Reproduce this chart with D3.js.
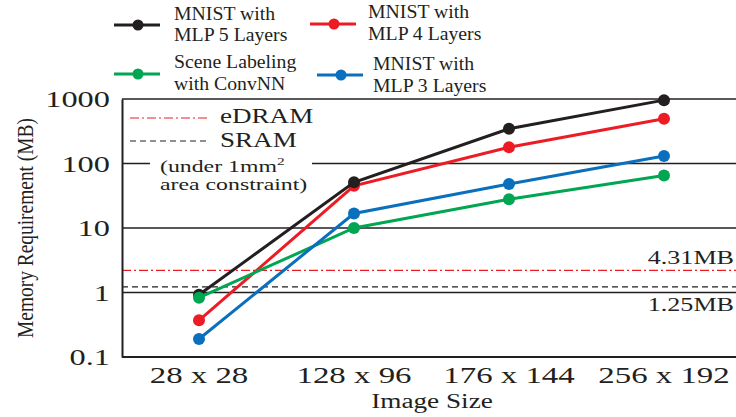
<!DOCTYPE html>
<html><head><meta charset="utf-8">
<script src="https://cdnjs.cloudflare.com/ajax/libs/d3/7.8.5/d3.min.js"></script>
<style>body{margin:0;background:#fff}svg{display:block}text{font-family:"Liberation Serif","Times New Roman",serif;fill:#231f20}</style>
</head><body><svg id="c" width="736" height="417"></svg>
<script>
const categories = ["28 x 28", "128 x 96", "176 x 144", "256 x 192"];
const mlp5 = [0.92, 51, 345, 960];
const mlp4 = [0.37, 45, 179, 494];
const convnn = [0.83, 10, 28, 65];
const mlp3 = [0.19, 16.8, 48, 131];
const yTicks = [0.1, 1, 10, 100, 1000];
const yTickLabels = ["0.1", "1", "10", "100", "1000"];
const edramLevel = 2.2, sramLevel = 1.22;
const edramLabel = "4.31MB", sramLabel = "1.25MB";

const series = [
  {name: ["MNIST with", "MLP 4 Layers"], values: mlp4, color: "#ed1c24"},
  {name: ["MNIST with", "MLP 5 Layers"], values: mlp5, color: "#231f20"},
  {name: ["Scene Labeling", "with ConvNN"], values: convnn, color: "#00a651"},
  {name: ["MNIST with", "MLP 3 Layers"], values: mlp3, color: "#0a6fbd"}
];

const svg = d3.select("#c");
const x = d3.scalePoint().domain(categories).range([199, 664]);
const y = d3.scaleLog().domain([0.1, 1000]).range([357, 99]);
const L = 122, R = 736;

function txt(g, s, px, py, size, sx, anchor, sy) {
  return g.append("text").attr("transform", `translate(${px},${py}) scale(${sx},${sy||1})`)
    .attr("font-size", size).attr("text-anchor", anchor || "start").text(s);
}

// gridlines
svg.append("g").selectAll("line").data(yTicks.filter(d => d > 0.1)).join("line")
  .attr("x1", L).attr("x2", R).attr("y1", d => y(d)).attr("y2", d => y(d))
  .attr("stroke", "#231f20").attr("stroke-width", 1.5);

// reference lines
svg.append("line").attr("x1", L).attr("x2", R).attr("y1", y(edramLevel)).attr("y2", y(edramLevel))
  .attr("stroke", "#ed1c24").attr("stroke-width", 1.2).attr("stroke-dasharray", "9,3,2,3");
svg.append("line").attr("x1", L).attr("x2", R).attr("y1", y(sramLevel)).attr("y2", y(sramLevel))
  .attr("stroke", "#231f20").attr("stroke-width", 1.2).attr("stroke-dasharray", "6,4");

// legend box (white) in plot
svg.append("rect").attr("x", 150).attr("y", 152).attr("width", 162).attr("height", 42).attr("fill", "#fff");

// axes
const yAxis = d3.axisLeft(y).tickValues(yTicks).tickSize(0).tickFormat("");
svg.append("g").attr("transform", `translate(${L},0)`).call(yAxis)
  .call(g => g.select(".domain").attr("stroke", "#231f20").attr("stroke-width", 2));
const xAxis = d3.axisBottom(x).tickSize(0).tickFormat("");
svg.append("g").attr("transform", `translate(0,357)`).call(xAxis)
  .call(g => g.select(".domain").attr("d", `M${L},0H${R}`).attr("stroke", "#231f20").attr("stroke-width", 2));

// y tick labels
const ty = svg.append("g");
yTicks.forEach((v, i) => txt(ty, yTickLabels[i], 110, y(v) + 8, 24, 1.35, "end"));
// x tick labels
const tx = svg.append("g");
categories.forEach(c => txt(tx, c, x(c), 383, 24, 1.37, "middle"));
txt(svg, "Image Size", 432, 408, 20, 1.36, "middle");
svg.append("text").attr("transform", "translate(33,228) rotate(-90) scale(1,1.3)")
  .attr("font-size", 18).attr("text-anchor", "middle").attr("textLength", 220)
  .attr("lengthAdjust", "spacingAndGlyphs").text("Memory Requirement (MB)");

// series
const line = d3.line().x((d, i) => x(categories[i])).y(d => y(d));
series.forEach(s => {
  const g = svg.append("g");
  g.append("path").attr("d", line(s.values)).attr("fill", "none").attr("stroke", s.color).attr("stroke-width", 3);
  g.selectAll("circle").data(s.values).join("circle")
    .attr("cx", (d, i) => x(categories[i])).attr("cy", d => y(d)).attr("r", 6).attr("fill", s.color);
});

// ref labels
txt(svg, edramLabel, 734, 264, 18, 1.45, "end");
txt(svg, sramLabel, 734, 311, 18, 1.45, "end");

// inner legend
svg.append("line").attr("x1", 130).attr("x2", 207).attr("y1", 118).attr("y2", 118)
  .attr("stroke", "#ed1c24").attr("stroke-width", 1.2).attr("stroke-dasharray", "9,3,2,3");
svg.append("line").attr("x1", 130).attr("x2", 207).attr("y1", 141).attr("y2", 141)
  .attr("stroke", "#231f20").attr("stroke-width", 1.2).attr("stroke-dasharray", "6,4");
txt(svg, "eDRAM", 220, 123, 22, 1.23);
txt(svg, "SRAM", 220, 147, 22, 1.23);
const ann = txt(svg, "(under 1mm", 160, 172, 17, 1.4);
ann.append("tspan").attr("font-size", 11).attr("dy", -7).text("2");
txt(svg, "area constraint)", 160, 190, 17, 1.4);

// top legend
const legPos = [
  {lx: 310, ly: 24, tx: 368, b1: 17.5, b2: 39.5},
  {lx: 114, ly: 25, tx: 174, b1: 19.5, b2: 41},
  {lx: 114, ly: 74, tx: 174, b1: 68, b2: 90},
  {lx: 317, ly: 75, tx: 373, b1: 70, b2: 91.5}
];
series.forEach((s, i) => {
  const p = legPos[i];
  const g = svg.append("g");
  g.append("line").attr("x1", p.lx).attr("x2", p.lx + 46).attr("y1", p.ly).attr("y2", p.ly)
    .attr("stroke", s.color).attr("stroke-width", 3);
  g.append("circle").attr("cx", p.lx + 24).attr("cy", p.ly).attr("r", 5.5).attr("fill", s.color);
  txt(g, s.name[0], p.tx, p.b1, 19, 1.04);
  txt(g, s.name[1], p.tx, p.b2, 19, 1.04);
});
</script></body></html>
